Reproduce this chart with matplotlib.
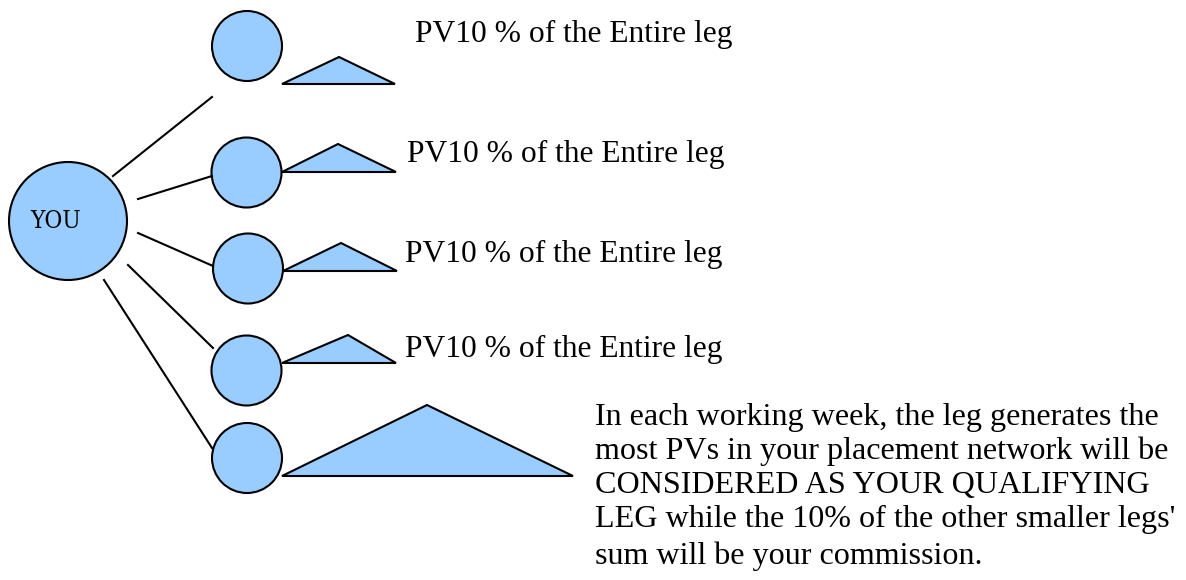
import matplotlib.pyplot as plt
from matplotlib.patches import Circle, Polygon

FILL = '#99ccff'
EDGE = 'black'

# main node
you_center = (68, 221)
you_radius = 59
you_label = 'YOU'

# leg nodes (circles)
leg_x = [247, 246.5, 248, 246.5, 247]
leg_y = [46, 172.5, 268.5, 370.5, 458]
leg_radius = 35

# connector lines from YOU to legs
line_x0 = [113, 138, 138, 128, 104]
line_y0 = [176, 199, 233, 265, 280]
line_x1 = [212, 212, 213, 213, 212]
line_y1 = [97, 176, 266, 348, 448]

# triangles next to each leg: left, right, base, apex x, apex y
tri_left = [282, 282, 283, 282, 282]
tri_right = [395, 396, 397, 396, 573]
tri_base = [84, 172, 271, 363, 476]
tri_apex_x = [339, 338, 341, 348, 427]
tri_apex_y = [57, 144, 243, 335, 405]

leg_text = 'PV10 % of the Entire leg'
leg_text_x = [415, 407, 405, 405]
leg_text_y = [42, 162, 262, 357]

para_lines = [
    'In each working week, the leg generates the',
    'most PVs in your placement network will be',
    'CONSIDERED AS YOUR QUALIFYING',
    "LEG while the 10% of the other smaller legs'",
    'sum will be your commission.',
]
para_x = 595
para_y = [425, 459, 493, 527, 564]

fig = plt.figure(figsize=(11.86, 5.8), dpi=100, facecolor='w')
ax = fig.add_axes([0, 0, 1, 1])
ax.set_xlim(0, 1186)
ax.set_ylim(580, 0)
ax.axis('off')

for i in range(len(line_x0)):
    ax.plot([line_x0[i], line_x1[i]], [line_y0[i], line_y1[i]], color=EDGE, lw=1.5)

ax.add_patch(Circle(you_center, you_radius, facecolor=FILL, edgecolor=EDGE, lw=1.5))
ax.text(you_center[0] - 12.5, you_center[1] + 1, you_label, ha='center', va='center',
        fontsize=17.5, family='DejaVu Serif', fontstretch='condensed')

for x, y in zip(leg_x, leg_y):
    ax.add_patch(Circle((x, y), leg_radius, facecolor=FILL, edgecolor=EDGE, lw=1.5))

for i in range(len(tri_left)):
    pts = [(tri_left[i], tri_base[i]), (tri_apex_x[i], tri_apex_y[i]), (tri_right[i], tri_base[i])]
    ax.add_patch(Polygon(pts, closed=True, facecolor=FILL, edgecolor=EDGE, lw=1.5, joinstyle='miter'))

for x, y in zip(leg_text_x, leg_text_y):
    ax.text(x, y, leg_text, ha='left', va='baseline', fontsize=22.7, family='Liberation Serif')

for line, y in zip(para_lines, para_y):
    ax.text(para_x, y, line, ha='left', va='baseline', fontsize=23.1, family='Liberation Serif')

plt.savefig('out.png', dpi=100, facecolor='w')
